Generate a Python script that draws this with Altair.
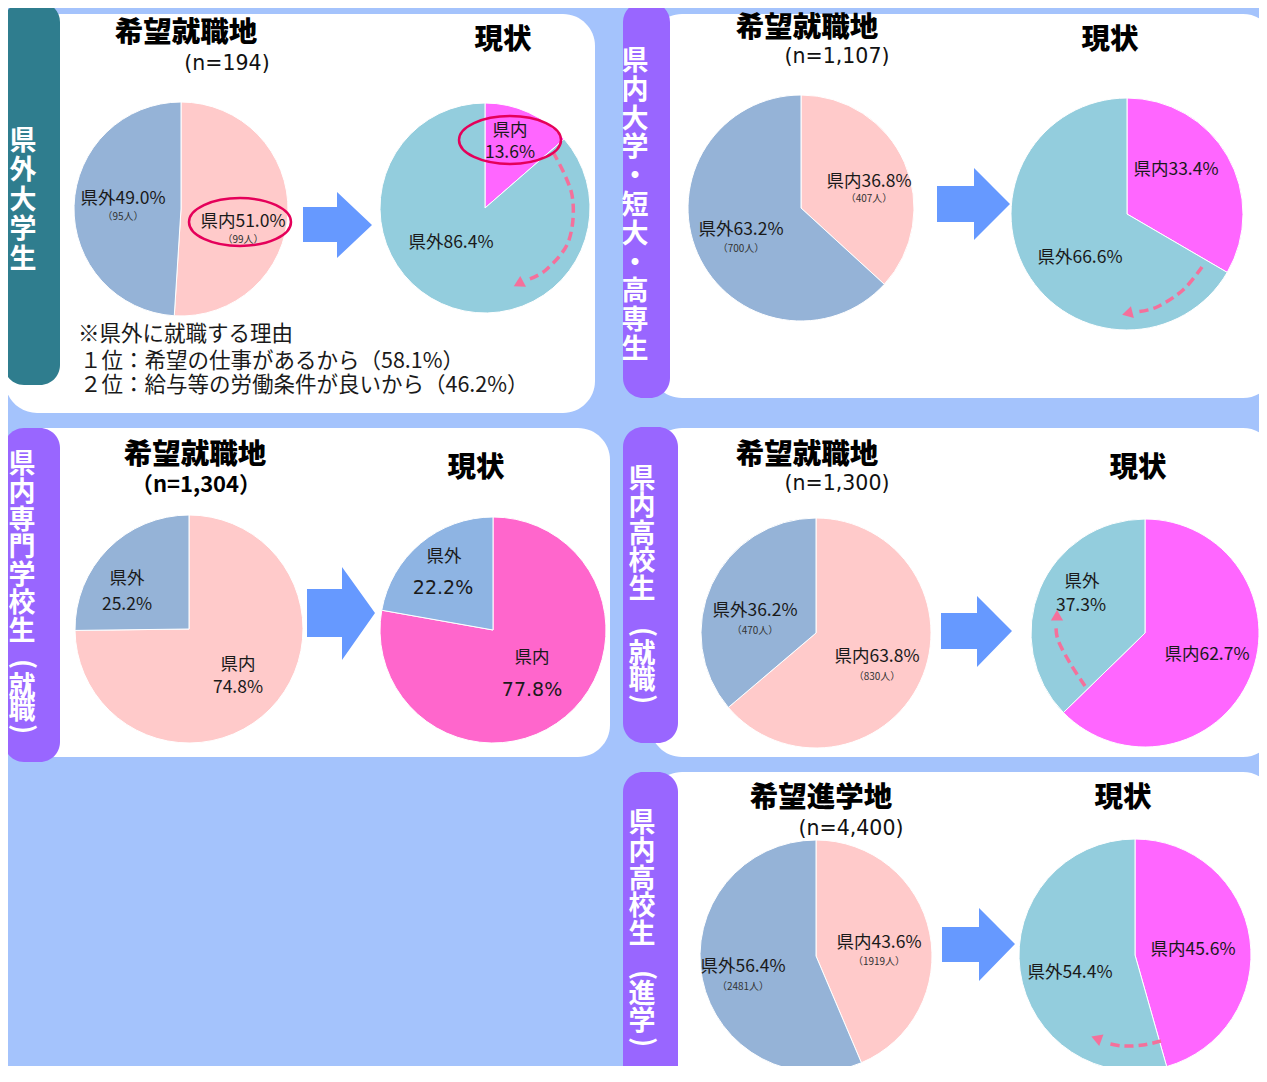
import altair as alt
import pandas as pd

# ---------------- data ----------------
PIE_IDS = ["u_hope", "u_now", "k_hope", "k_now", "s_hope", "s_now",
           "h_hope", "h_now", "e_hope", "e_now"]
IN_PCT = [51.0, 13.6, 36.8, 33.4, 74.8, 77.8, 63.8, 62.7, 43.6, 45.6]
OUT_PCT = [49.0, 86.4, 63.2, 66.6, 25.2, 22.2, 36.2, 37.3, 56.4, 54.4]
IN_COLORS = ["#ffcaca", "#ff66ff", "#ffcaca", "#ff66ff", "#ffcaca", "#ff66cc",
             "#ffcaca", "#ff66ff", "#ffcaca", "#ff66ff"]
OUT_COLORS = ["#95b3d7", "#93cddd", "#95b3d7", "#93cddd", "#95b3d7", "#8eb4e3",
              "#95b3d7", "#93cddd", "#95b3d7", "#93cddd"]
PIE_CX = [181, 485, 801, 1127, 189, 493, 816, 1145, 816, 1135]
PIE_CY = [209, 208, 208, 214, 629, 630, 633, 633, 956, 955]
PIE_R = [107, 105, 113, 116, 114, 113, 115, 114, 116, 116]

# panels (white boxes)
PANEL_X0 = [5, 650, 5, 650, 650]
PANEL_X1 = [595, 1275, 610, 1275, 1275]
PANEL_Y0 = [14, 14, 428, 428, 772]
PANEL_Y1 = [413, 398, 757, 757, 1110]

# side label boxes
SIDE_X0 = [4, 623, 4, 623, 623]
SIDE_X1 = [60, 670, 60, 678, 678]
SIDE_Y0 = [2, 2, 428, 427, 772]
SIDE_Y1 = [385, 398, 762, 743, 1110]
SIDE_COLORS = ["#2f7d8e", "#9966ff", "#9966ff", "#9966ff", "#9966ff"]

# vertical side texts: blocks of characters (first char centre, line step)
BLOCK_TEXT = ["県外大学生", "県内大学・短大・高専生", "県内専門学校生", "就職",
              "県内高校生", "就職", "県内高校生", "進学"]
BLOCK_X = [23, 635, 22, 22, 642, 642, 642, 642]
BLOCK_Y = [140, 60, 463, 686, 478, 653, 822, 993]
BLOCK_STEP = [29.5, 28.8, 27.8, 23, 27.5, 26, 27.8, 27]
PAREN_TEXT = ["(", ")", "(", ")", "(", ")"]
PAREN_X = [22, 22, 642, 642, 642, 642]
PAREN_Y = [664, 729, 632, 699, 975, 1042]

# block arrows: x start, head start, tip, shaft top/bottom, head top/bottom, tip y
ARW_X0 = [303, 937, 307, 941, 942]
ARW_XH = [337, 974, 342, 977, 979]
ARW_TIP = [372, 1010, 375, 1012, 1015]
ARW_ST = [207, 186, 589, 613, 927]
ARW_SB = [242, 222, 637, 649, 962]
ARW_HT = [192, 168, 567, 596, 908]
ARW_HB = [258, 240, 660, 667, 981]
ARW_TY = [225, 204, 613, 631, 944]

# dashed curved arrows
CURVE_X = [[553, 572, 569, 547, 527],
           [1202, 1183, 1157, 1136],
           [1085, 1070, 1058, 1056],
           [1161, 1143, 1123, 1106]]
CURVE_Y = [[152, 195, 240, 269, 280],
           [267, 290, 307, 312],
           [686, 663, 640, 625],
           [1041, 1045, 1046, 1043]]
HEAD_X = [520, 1129, 1057, 1098]
HEAD_Y = [283, 313, 617, 1039]
HEAD_ANGLE = [242, 256, 0, 290]

# red ellipses
ELL_X = [240, 510]
ELL_Y = [222, 140]

# titles
TITLE_TEXT = ["希望就職地", "現状", "希望就職地", "現状", "希望就職地", "現状",
              "希望就職地", "現状", "希望進学地", "現状"]
TITLE_X = [186, 503, 807, 1110, 195, 476, 807, 1138, 821, 1123]
TITLE_Y = [33, 40, 28, 40, 455, 468, 455, 468, 798, 798]

N_TEXT = ["(n=194)", "(n=1,107)", "(n=1,300)", "(n=4,400)"]
N_X = [227, 837, 837, 851]
N_Y = [64, 57, 484, 829]
NB_TEXT = ["（n=1,304）"]
NB_X = [196]
NB_Y = [485]

NOTE_TEXT = ["※県外に就職する理由",
             "１位：希望の仕事があるから（58.1%）",
             "２位：給与等の労働条件が良いから（46.2%）"]
NOTE_X = [78, 80, 80]
NOTE_Y = [335, 362, 386]

LAB_TEXT = ["県外49.0%", "県内51.0%", "県内", "13.6%", "県外86.4%",
            "県内36.8%", "県外63.2%", "県内33.4%", "県外66.6%",
            "県外", "25.2%", "県内", "74.8%", "県外", "県内",
            "県外36.2%", "県内63.8%", "県外", "37.3%", "県内62.7%",
            "県内43.6%", "県外56.4%", "県内45.6%", "県外54.4%"]
LAB_X = [123, 243, 510, 510, 451,
         869, 741, 1176, 1080,
         127, 127, 238, 238, 444, 532,
         755, 877, 1082, 1081, 1207,
         879, 743, 1193, 1070]
LAB_Y = [199, 222, 131, 153, 243,
         182, 230, 170, 258,
         579, 605, 665, 688, 557, 658,
         611, 657, 582, 606, 655,
         943, 967, 950, 973]

BIG_TEXT = ["22.2%", "77.8%"]
BIG_X = [443, 532]
BIG_Y = [588, 690]

SMALL_TEXT = ["（95人）", "（99人）", "（407人）", "（700人）", "（470人）",
              "（830人）", "（1919人）", "（2481人）"]
SMALL_X = [123, 243, 869, 741, 755, 877, 879, 743]
SMALL_Y = [217, 240, 199, 249, 631, 677, 962, 987]

# ---------------- chart ----------------
W, H = 1251, 1058
xs = alt.Scale(domain=[8, 8 + W], nice=False, zero=False)
ys = alt.Scale(domain=[8, 8 + H], nice=False, zero=False, reverse=True)
JP = "Noto Sans CJK JP"


def X(f):
    return alt.X(f, type="quantitative", scale=xs, axis=None)


def Y(f):
    return alt.Y(f, type="quantitative", scale=ys, axis=None, stack=None)


panels = alt.Chart(pd.DataFrame({"x0": PANEL_X0, "x1": PANEL_X1,
                                 "y0": PANEL_Y0, "y1": PANEL_Y1})).mark_rect(
    color="white", cornerRadius=32).encode(x=X("x0"), x2="x1", y=Y("y0"), y2="y1")

sides = alt.Chart(pd.DataFrame({"x0": SIDE_X0, "x1": SIDE_X1, "y0": SIDE_Y0,
                                "y1": SIDE_Y1, "c": SIDE_COLORS})).mark_rect(
    cornerRadius=20).encode(x=X("x0"), x2="x1", y=Y("y0"), y2="y1",
                            color=alt.Color("c:N", scale=None))

SIDE_FS = 27
side_layers = []
for t, bx, by, st in zip(BLOCK_TEXT, BLOCK_X, BLOCK_Y, BLOCK_STEP):
    side_layers.append(
        alt.Chart(pd.DataFrame({"t": ["\n".join(t)], "x": [bx],
                                "y": [by - 0.41 * SIDE_FS]})).mark_text(
            font=JP, fontWeight="bold", fontSize=SIDE_FS, color="white",
            baseline="top", lineBreak="\n", lineHeight=st
        ).encode(x=X("x"), y=Y("y"), text="t:N")
    )
parens = alt.Chart(pd.DataFrame({"t": PAREN_TEXT, "x": PAREN_X, "y": PAREN_Y})).mark_text(
    font=JP, fontWeight="bold", fontSize=27, color="white", baseline="middle",
    angle=90
).encode(x=X("x"), y=Y("y"), text="t:N")

pie_rows = []
for i, pid in enumerate(PIE_IDS):
    pie_rows.append({"pie": pid, "ord": 0, "value": IN_PCT[i], "c": IN_COLORS[i],
                     "cx": PIE_CX[i], "cy": PIE_CY[i], "r": PIE_R[i]})
    pie_rows.append({"pie": pid, "ord": 1, "value": OUT_PCT[i], "c": OUT_COLORS[i],
                     "cx": PIE_CX[i], "cy": PIE_CY[i], "r": PIE_R[i]})
pies = alt.Chart(pd.DataFrame(pie_rows)).transform_stack(
    stack="value", groupby=["pie"], as_=["t0", "t1"],
    sort=[alt.SortField("ord", order="ascending")]
).mark_arc(stroke="white", strokeWidth=1).encode(
    x=X("cx"), y=Y("cy"),
    theta=alt.Theta("t0:Q", scale=alt.Scale(domain=[0, 100]), stack=None),
    theta2="t1:Q",
    radius=alt.Radius("r:Q", scale=None),
    color=alt.Color("c:N", scale=None),
)

arrow_rows = []
for i in range(len(ARW_X0)):
    arrow_rows += [
        {"a": i, "x": ARW_X0[i], "y0": ARW_ST[i], "y1": ARW_SB[i]},
        {"a": i, "x": ARW_XH[i], "y0": ARW_ST[i], "y1": ARW_SB[i]},
        {"a": i, "x": ARW_XH[i] + 0.01, "y0": ARW_HT[i], "y1": ARW_HB[i]},
        {"a": i, "x": ARW_TIP[i], "y0": ARW_TY[i], "y1": ARW_TY[i]},
    ]
arrows = alt.Chart(pd.DataFrame(arrow_rows)).mark_area(
    color="#6699ff", interpolate="linear").encode(
    x=X("x"), y=Y("y0"), y2="y1", detail="a:N")

curve_rows = []
for i, (cxs, cys) in enumerate(zip(CURVE_X, CURVE_Y)):
    for j, (cx, cy) in enumerate(zip(cxs, cys)):
        curve_rows.append({"k": i, "o": j, "x": cx, "y": cy})
curves = alt.Chart(pd.DataFrame(curve_rows)).mark_line(
    color="#f4709b", strokeWidth=3.5, strokeDash=[9, 5], interpolate="cardinal"
).encode(x=X("x"), y=Y("y"), detail="k:N", order="o:Q")

heads = alt.Chart(pd.DataFrame({"x": HEAD_X, "y": HEAD_Y, "a": HEAD_ANGLE})).mark_point(
    shape="triangle", filled=True, size=150, color="#f4709b", opacity=1
).encode(x=X("x"), y=Y("y"), angle=alt.Angle("a:Q", scale=None))

ellipses = alt.Chart(pd.DataFrame({"x": ELL_X, "y": ELL_Y})).mark_point(
    shape="M -1 0 A 1 0.47 0 1 1 1 0 A 1 0.47 0 1 1 -1 0 Z",
    filled=False, size=10404, strokeWidth=2.5, color="#e5005a", opacity=1
).encode(x=X("x"), y=Y("y"))


def text_layer(texts, xv, yv, size, weight="normal", font=JP, align="center",
               color="#1a1a1a"):
    return alt.Chart(pd.DataFrame({"t": texts, "x": xv, "y": yv})).mark_text(
        font=font, fontWeight=weight, fontSize=size, align=align,
        baseline="middle", color=color
    ).encode(x=X("x"), y=Y("y"), text="t:N")


titles = text_layer(TITLE_TEXT, TITLE_X, TITLE_Y, 28.5, weight=900, color="#000000")
ns = text_layer(N_TEXT, N_X, N_Y, 20.5, font="DejaVu Sans", color="#111111")
nbs = text_layer(NB_TEXT, NB_X, NB_Y, 22, weight="bold", color="#000000")
notes = text_layer(NOTE_TEXT, NOTE_X, NOTE_Y, 21.5, align="left")
labs = text_layer(LAB_TEXT, LAB_X, LAB_Y, 17.5)
bigs = text_layer(BIG_TEXT, BIG_X, BIG_Y, 19, font="DejaVu Sans")
smalls = text_layer(SMALL_TEXT, SMALL_X, SMALL_Y, 10, color="#333333")

chart = alt.layer(
    panels, sides, *side_layers, parens, pies, arrows, curves, heads, ellipses,
    titles, ns, nbs, notes, labs, bigs, smalls
).properties(
    width=W, height=H, background="#a4c3fc", padding=0,
    autosize=alt.AutoSizeParams(type="none")
).configure_view(stroke=None)

chart.save("out.html", embed_options={"renderer": "svg", "actions": False})
